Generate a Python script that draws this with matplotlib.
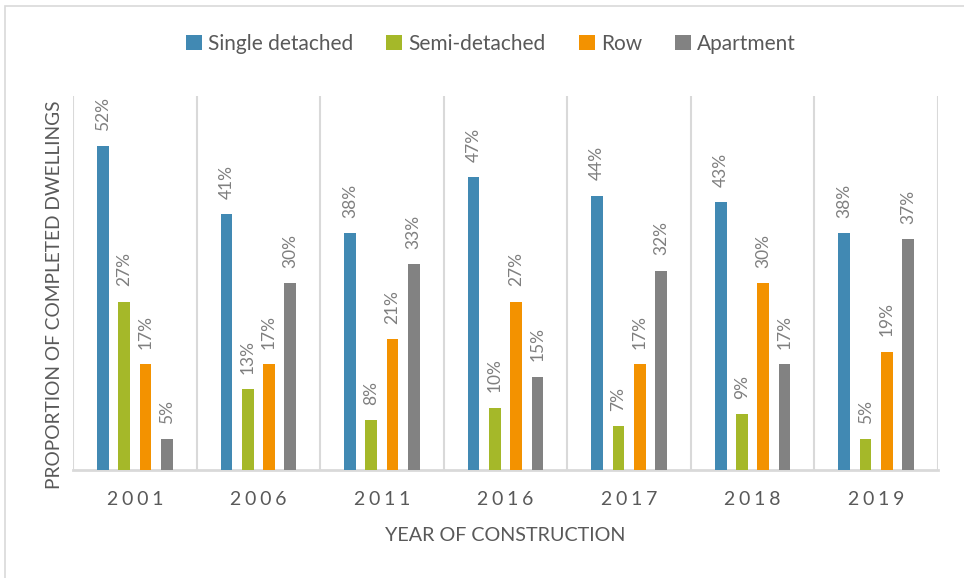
import numpy as np
import matplotlib.pyplot as plt
from matplotlib.patches import Rectangle

years = ["2001", "2006", "2011", "2016", "2017", "2018", "2019"]
single_detached = [52, 41, 38, 47, 44, 43, 38]
semi_detached = [27, 13, 8, 10, 7, 9, 5]
row = [17, 17, 21, 27, 17, 30, 19]
apartment = [5, 30, 33, 15, 32, 17, 37]

series_names = ["Single detached", "Semi-detached", "Row", "Apartment"]
colors = ["#4189b3", "#a5b829", "#f39200", "#828282"]

plt.rcParams['font.family'] = ['Lato', 'DejaVu Sans']
text_gray = "#595959"
label_gray = "#7f7f7f"
grid_gray = "#d9d9d9"

fig = plt.figure(figsize=(9.64, 5.78), dpi=100)
ax = fig.add_axes([73 / 964, 1 - 470 / 578, (938 - 73) / 964, (470 - 96) / 578])

# chart border (runs off the right and bottom edges)
fig.patches.append(Rectangle((5 / 964, -0.1), 1.2, 1 - 6 / 578 + 0.1,
                             transform=fig.transFigure, fill=False,
                             edgecolor=grid_gray, linewidth=1.2))

x = np.arange(len(years))
pitch = 0.172
width = 0.095
all_series = [single_detached, semi_detached, row, apartment]
for i, (vals, name, c) in enumerate(zip(all_series, series_names, colors)):
    offs = (i - 1.5) * pitch
    bars = ax.bar(x + offs, vals, width, color=c, label=name, zorder=3)
    for b, v in zip(bars, vals):
        ax.annotate(f"{v}%", (b.get_x() + b.get_width() / 2, b.get_height()),
                    xytext=(0, 11), textcoords="offset points",
                    rotation=90, ha="center", va="bottom",
                    fontsize=12.5, color=label_gray)

ax.set_xlim(-0.5, len(years) - 0.5)
ax.set_ylim(0, 60)
ax.set_yticks([])
ax.set_xticks(x)
# spaced-out year labels
ax.set_xticklabels(["\u2009\u200a".join(y) for y in years], fontsize=14, color=text_gray)
ax.tick_params(axis="x", length=0, pad=15)
ax.set_xticks(np.arange(-0.5, len(years), 1), minor=True)
ax.tick_params(axis="x", which="minor", length=0)
ax.grid(axis="x", which="minor", color=grid_gray, linewidth=1.5, zorder=0)

for s in ["top", "right", "left"]:
    ax.spines[s].set_visible(False)
ax.spines["bottom"].set_color(grid_gray)
ax.spines["bottom"].set_linewidth(2)

ax.set_xlabel("YEAR OF CONSTRUCTION", fontsize=14.2, color=text_gray, labelpad=14)
ax.set_ylabel("PROPORTION OF COMPLETED DWELLINGS", fontsize=13.8, color=text_gray)
ax.yaxis.set_label_coords(-0.011, 0.468)

fig.legend(loc="center", bbox_to_anchor=(491 / 964, 1 - 44 / 578), ncol=4,
           frameon=False, fontsize=15, handlelength=0.75, handleheight=0.75,
           handletextpad=0.3, columnspacing=1.6, labelcolor=text_gray)

fig.savefig("out.png", dpi=100)
